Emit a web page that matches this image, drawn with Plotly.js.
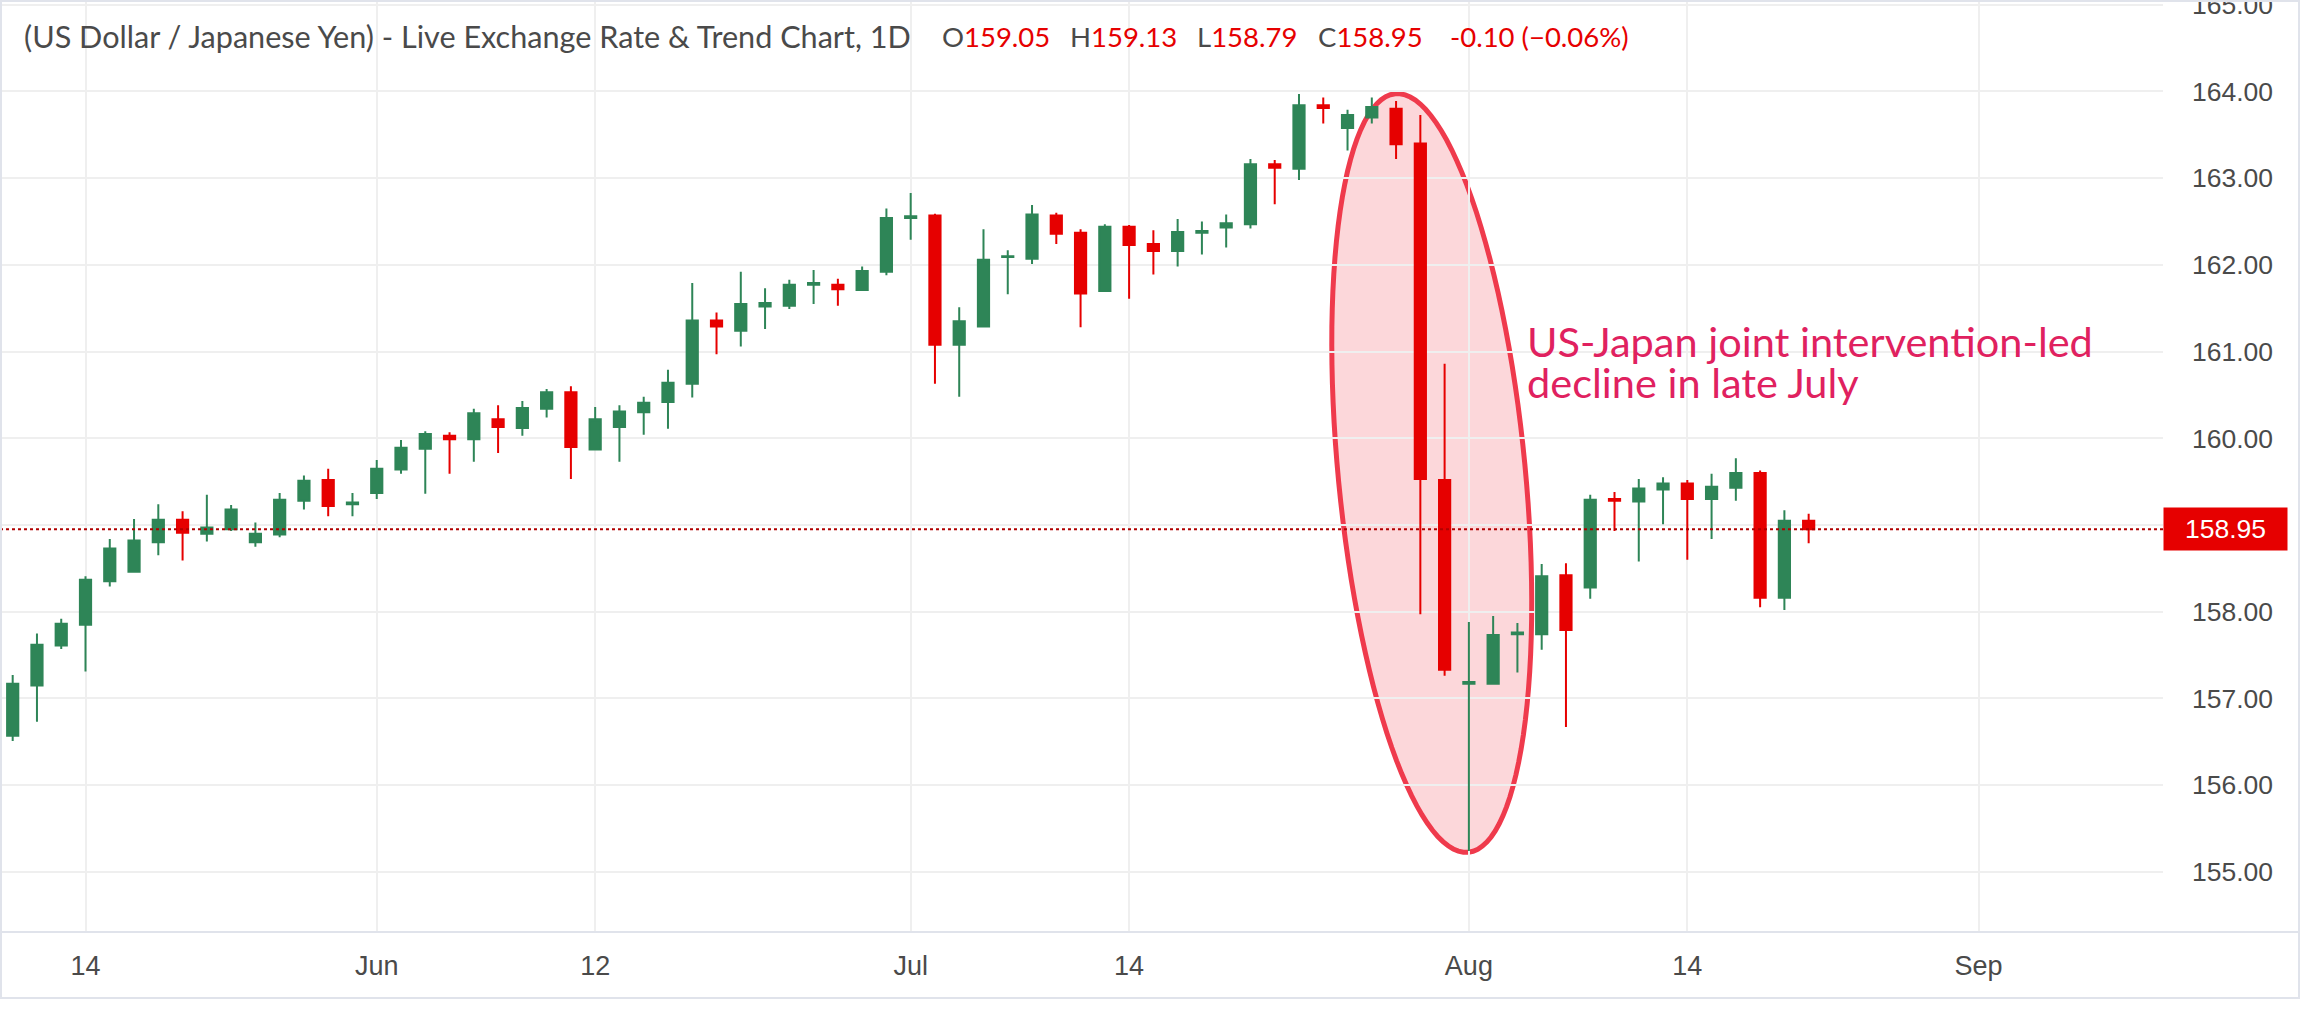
<!DOCTYPE html>
<html>
<head>
<meta charset="utf-8">
<script src="https://cdn.plot.ly/plotly-3.0.1.min.js"></script>
<style>
html,body{margin:0;padding:0;background:#fff;}
#chart{width:2300px;height:1031px;}
</style>
</head>
<body>
<div id="chart"></div>
<script>
// ---- data (daily OHLC) ----
const opens  = [156.57,157.15,157.61,157.85,158.35,158.46,158.80,159.06,158.90,158.95,
                158.80,158.89,159.28,159.52,159.24,159.37,159.64,159.88,160.03,159.99,
                160.22,160.12,160.34,160.53,159.87,160.13,160.30,160.42,160.63,161.36,
                161.24,161.52,161.53,161.77,161.77,161.71,161.92,162.54,162.57,161.08,
                161.29,162.09,162.07,162.57,162.37,161.70,162.44,162.24,162.16,162.37,
                162.43,162.47,163.16,163.11,163.84,163.58,163.70,163.80,163.40,159.52,
                157.17,157.17,157.74,157.74,158.42,158.28,159.30,159.27,159.41,159.48,
                159.30,159.43,159.60,158.16,159.05];
const highs  = [157.27,157.75,157.92,158.41,158.84,159.07,159.24,159.16,159.35,159.23,
                159.03,159.37,159.57,159.65,159.37,159.75,159.98,160.08,160.07,160.34,
                160.38,160.43,160.57,160.60,160.36,160.38,160.48,160.79,161.79,161.45,
                161.92,161.73,161.83,161.94,161.84,161.98,162.65,162.83,162.59,161.51,
                162.41,162.17,162.69,162.60,162.41,162.47,162.46,162.40,162.53,162.50,
                162.58,163.22,163.21,163.97,163.93,163.79,163.93,163.89,163.73,160.86,
                157.88,157.95,157.87,158.55,158.56,159.35,159.38,159.53,159.55,159.52,
                159.59,159.77,159.63,159.17,159.13];
const lows   = [156.51,156.73,157.57,157.31,158.29,158.45,158.65,158.59,158.81,158.93,
                158.75,158.86,159.18,159.10,159.10,159.30,159.59,159.36,159.59,159.73,
                159.83,160.03,160.24,159.53,159.86,159.73,160.04,160.11,160.47,160.97,
                161.06,161.26,161.49,161.55,161.53,161.70,161.88,162.29,160.63,160.48,
                161.28,161.66,162.01,162.24,161.28,161.69,161.61,161.89,161.98,162.12,
                162.20,162.42,162.70,162.98,163.63,163.32,163.63,163.22,157.97,157.26,
                155.24,157.16,157.30,157.56,156.67,158.15,158.93,158.58,159.01,158.60,
                158.84,159.28,158.05,158.02,158.79];
const closes = [157.17,157.62,157.86,158.37,158.73,158.82,159.06,158.91,158.97,159.18,
                158.90,159.29,159.51,159.22,159.26,159.65,159.89,160.05,159.99,160.29,
                160.13,160.35,160.53,159.90,160.22,160.31,160.41,160.64,161.36,161.29,
                161.55,161.56,161.77,161.79,161.72,161.93,162.54,162.56,161.08,161.35,
                162.06,162.10,162.58,162.36,161.67,162.44,162.23,162.16,162.38,162.39,
                162.48,163.16,163.12,163.84,163.81,163.73,163.82,163.39,159.53,157.33,
                157.19,157.73,157.76,158.41,157.79,159.29,159.28,159.42,159.48,159.30,
                159.44,159.60,158.16,159.05,158.95];

// x-axis labels (bar index where each date label sits)
const tickBars   = [3, 15, 24, 37, 46, 60, 69, 81];
const tickLabels = ['14', 'Jun', '12', 'Jul', '14', 'Aug', '14', 'Sep'];
// y-axis ticks (159.00 label is hidden behind the last-price tag)
const priceTicks = [155,156,157,158,159,160,161,162,163,164,165];
const hiddenPriceLabel = 159;

const lastPrice = 158.95;
const legendMain = '(US Dollar / Japanese Yen) - Live Exchange Rate &amp; Trend Chart, 1D';
const legendItems = [['O','159.05'],['H','159.13'],['L','158.79'],['C','158.95']];
const changeText = '-0.10 (\u22120.06%)';
const noteLines = ['US-Japan joint intervention-led', 'decline in late July'];

// ---- styling ----
const GREEN = '#2e8557';
const RED = '#e60000';
const GRID = '#efefef';
const TXT = '#4a4a4a';
const FONT = 'Lato, "Open Sans", sans-serif';
const AXFONT = '"Liberation Sans", Arial, sans-serif';

const W = 2300, H = 1031;
const M = {l: 0, r: 137, t: 0, b: 99};
const plotW = W - M.l - M.r, plotH = H - M.t - M.b;
const xr = [-0.523, 88.6];
const yr = [154.306, 165.055];
const pxX = plotW / (xr[1] - xr[0]);
const pxY = plotH / (yr[1] - yr[0]);
const px2paper = p => p / plotW;

const idx = opens.map((_, i) => i);

const trace = {
  type: 'candlestick',
  x: idx, open: opens, high: highs, low: lows, close: closes,
  increasing: {line: {color: GREEN, width: 2}, fillcolor: GREEN},
  decreasing: {line: {color: RED, width: 2}, fillcolor: RED},
  whiskerwidth: 0,
  hoverinfo: 'none',
  showlegend: false
};

// Rotated ellipse highlighting the late-July drop (defined in pixels, mapped to data)
const ell = {cx: 58.47, cy: 159.60, a: 381, b: 93.5, rotDeg: 5.5};
function ellipsePath(e) {
  const phi = e.rotDeg * Math.PI / 180;
  const pts = [];
  for (let k = 0; k < 120; k++) {
    const t = 2 * Math.PI * k / 120;
    const dxp = e.a * Math.cos(t) * Math.sin(phi) + e.b * Math.sin(t) * Math.cos(phi);
    const dyp = e.a * Math.cos(t) * Math.cos(phi) - e.b * Math.sin(t) * Math.sin(phi);
    pts.push((e.cx + dxp / pxX).toFixed(4) + ',' + (e.cy - dyp / pxY).toFixed(4));
  }
  return 'M' + pts.join(' L') + ' Z';
}

const annotations = [];
// legend line
const legendY = 1 - 37 / plotH;
annotations.push({xref: 'paper', yref: 'paper', x: px2paper(22), y: legendY,
  xanchor: 'left', yanchor: 'middle', showarrow: false,
  text: legendMain, font: {family: FONT, size: 30.6, color: TXT}});
const itemX = [940, 1068, 1195, 1316];
legendItems.forEach((it, i) => {
  annotations.push({xref: 'paper', yref: 'paper', x: px2paper(itemX[i]), y: legendY,
    xanchor: 'left', yanchor: 'middle', showarrow: false,
    text: it[0] + '<span style="color:' + RED + '">' + it[1] + '</span>',
    font: {family: FONT, size: 27.5, color: TXT}});
});
annotations.push({xref: 'paper', yref: 'paper', x: px2paper(1448), y: legendY,
  xanchor: 'left', yanchor: 'middle', showarrow: false,
  text: changeText, font: {family: FONT, size: 27.5, color: RED}});
// note text
const noteY = [161.12, 160.65];
noteLines.forEach((t, i) => {
  annotations.push({xref: 'x', yref: 'y', x: 62.3, y: noteY[i], xanchor: 'left', yanchor: 'middle',
    showarrow: false, text: t, font: {family: FONT, size: 41.5, color: '#e0215f'}});
});
// last price label
annotations.push({xref: 'paper', yref: 'y', x: 1, y: lastPrice, xanchor: 'left', yanchor: 'middle',
  showarrow: false, text: lastPrice.toFixed(2), bgcolor: RED, borderpad: 4,
  width: 115, height: 34, align: 'center',
  font: {family: AXFONT, size: 26.5, color: '#ffffff'}});

const shapes = [
  {type: 'path', xref: 'x', yref: 'y', path: ellipsePath(ell), layer: 'below',
   fillcolor: 'rgba(242,54,69,0.2)', line: {color: '#ef3a4c', width: 5}},
  {type: 'line', xref: 'paper', yref: 'y', x0: 0, x1: 1, y0: lastPrice, y1: lastPrice,
   line: {color: '#b00000', width: 2, dash: 'dot'}},
  {type: 'line', xref: 'paper', yref: 'paper', x0: 0, x1: (W - 1) / plotW, y0: 0, y1: 0,
   line: {color: '#e0e3eb', width: 2}},
  {type: 'rect', xref: 'paper', yref: 'paper', x0: 1 / plotW, x1: (W - 1) / plotW,
   y0: (plotH - 998) / plotH, y1: 1 - 1 / plotH, line: {color: '#e0e3eb', width: 2}}
];

const layout = {
  width: W, height: H,
  margin: {l: M.l, r: M.r, t: M.t, b: M.b, pad: 0},
  paper_bgcolor: '#ffffff', plot_bgcolor: '#ffffff',
  showlegend: false,
  boxgap: 0.34,
  xaxis: {
    type: 'linear', range: xr, fixedrange: true,
    tickmode: 'array', tickvals: tickBars, ticktext: tickLabels,
    showgrid: true, gridcolor: GRID, gridwidth: 2, zeroline: false, showline: false,
    ticks: '', ticklabelstandoff: 15,
    tickfont: {family: AXFONT, size: 27, color: TXT},
    rangeslider: {visible: false}
  },
  yaxis: {
    side: 'right', range: yr, fixedrange: true,
    tickmode: 'array', tickvals: priceTicks,
    ticktext: priceTicks.map(v => v === hiddenPriceLabel ? '' : v.toFixed(2)),
    showgrid: true, gridcolor: GRID, gridwidth: 2, zeroline: false, showline: false,
    ticks: '', ticklabelstandoff: 28, ticklabeloverflow: 'allow',
    tickfont: {family: AXFONT, size: 26.5, color: TXT}
  },
  annotations: annotations,
  shapes: shapes
};

Plotly.newPlot('chart', [trace], layout, {staticPlot: true, displayModeBar: false});
</script>
</body>
</html>
